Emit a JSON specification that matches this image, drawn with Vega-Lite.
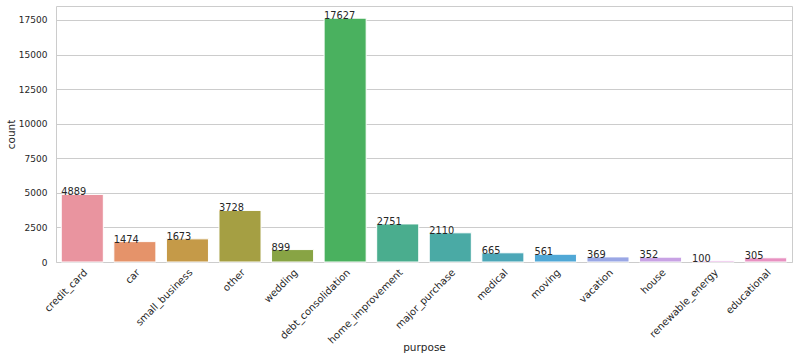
{
  "$schema": "https://vega.github.io/schema/vega-lite/v6.json",
  "autosize": "none",
  "width": 736,
  "height": 256,
  "padding": {"left": 56, "top": 6, "right": 6, "bottom": 98},
  "background": "white",
  "config": {
    "font": "DejaVu Sans",
    "view": {"stroke": "#cccccc", "strokeWidth": 1},
    "axis": {"labelColor": "#262626", "titleColor": "#262626", "labelFontSize": 10, "titleFontSize": 10.5, "titleFontWeight": "normal", "domain": false, "ticks": false, "gridColor": "#cccccc"}
  },
  "data": {"values": [
    {"purpose": "credit_card", "count": 4889, "color": "#e9949f"},
    {"purpose": "car", "count": 1474, "color": "#e5936a"},
    {"purpose": "small_business", "count": 1673, "color": "#c59a48"},
    {"purpose": "other", "count": 3728, "color": "#a59f43"},
    {"purpose": "wedding", "count": 899, "color": "#88a444"},
    {"purpose": "debt_consolidation", "count": 17627, "color": "#4ab15f"},
    {"purpose": "home_improvement", "count": 2751, "color": "#4aad8e"},
    {"purpose": "major_purchase", "count": 2110, "color": "#4aaaa5"},
    {"purpose": "medical", "count": 665, "color": "#4ca7b7"},
    {"purpose": "moving", "count": 561, "color": "#50a8d6"},
    {"purpose": "vacation", "count": 369, "color": "#9aa7e5"},
    {"purpose": "house", "count": 352, "color": "#c8a2e4"},
    {"purpose": "renewable_energy", "count": 100, "color": "#e39ee0"},
    {"purpose": "educational", "count": 305, "color": "#e891c1"}
  ]},
  "encoding": {
    "x": {"field": "purpose", "type": "nominal", "sort": null,
      "scale": {"paddingInner": 0.2, "paddingOuter": 0.1},
      "axis": {"labelAngle": -45, "labelAlign": "right", "labelBaseline": "top", "labelPadding": 5, "labelFontSize": 10, "title": "purpose", "titleY": 80, "titleBaseline": "top", "grid": false}},
    "y": {"field": "count", "type": "quantitative", "scale": {"domain": [0, 18508], "nice": false},
      "axis": {"values": [0, 2500, 5000, 7500, 10000, 12500, 15000, 17500], "format": "d", "labelOverlap": false, "labelFontSize": 9, "title": "count", "labelPadding": 9, "titlePadding": 2}}
  },
  "layer": [
    {
      "mark": {"type": "bar", "stroke": "white", "strokeWidth": 1},
      "encoding": {
        "color": {"field": "color", "type": "nominal", "scale": null, "legend": null}
      }
    },
    {
      "mark": {"type": "text", "align": "left", "baseline": "alphabetic", "fontSize": 9.8, "color": "#262626", "dy": 1},
      "encoding": {
        "x": {"field": "purpose", "type": "nominal", "sort": null, "bandPosition": 0},
        "text": {"field": "count", "type": "quantitative", "format": "d"}
      }
    }
  ]
}
